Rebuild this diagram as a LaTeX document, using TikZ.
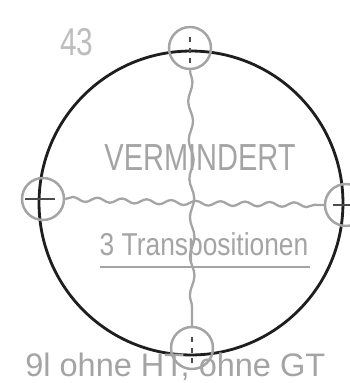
\documentclass[tikz,border=0pt]{standalone}
\usepackage{fontspec}
\setmainfont{Liberation Sans}
\usepackage{tikz}
\usetikzlibrary{positioning,decorations.pathmorphing}
\definecolor{ink}{HTML}{1E1E1E}
\definecolor{pencil}{HTML}{A4A4A4}
\definecolor{faint}{HTML}{BDBDBD}
\tikzset{
  disc/.style={circle, draw=ink, line width=1.6pt, minimum size=6.08cm, inner sep=0pt},
  ring/.style={circle, draw=pencil, line width=1.4pt, minimum size=0.84cm, inner sep=0pt},
  wave/.style={draw=pencil, line width=1.3pt, decorate,
    decoration={snake, amplitude=1.3pt, segment length=#1}},
  wave/.default=14pt,
  tick/.style={draw=ink!80, line width=0.7pt},
  hand/.style={text=pencil, inner sep=0pt},
}

\begin{document}
\begin{tikzpicture}[x=0.02cm,y=-0.02cm]
  \clip (0,0) rectangle (350,383);
  \fill[white] (0,0) rectangle (350,383);
  % big circle
  \node[disc] (rim) at (191,203) {};
  % markers on the rim
  \node[ring] (top) at (190,48) {};
  \node[ring] (lft) at (43,199) {};
  \node[ring] (rgt) at (346,205) {};
  \node[ring] (bot) at (192,348) {};
  % wavy axes
  \coordinate (mid) at (192,203);
  \draw[wave=22pt] (top.south) -- (mid) -- (bot.north);
  \draw[wave] (lft.east) -- (mid) -- (rgt.west);
  % cross marks
  \draw[tick, dashed] ([yshift=0.22cm]top.center) -- ([yshift=-0.3cm]top.center);
  \draw[tick, line width=1pt] ([xshift=-0.36cm]lft.center) -- ([xshift=0.24cm]lft.center);
  \draw[tick, line width=1pt] ([xshift=-0.26cm]rgt.center) -- ([xshift=0.1cm]rgt.center);
  \draw[tick, dashed] ([yshift=0.22cm]bot.center) -- ([yshift=-0.3cm]bot.center);
  % labels
  \node[hand, text=faint, font=\fontsize{17}{17}\selectfont, yscale=1.3] (num) at (77,42) {43};
  \node[hand, font=\fontsize{16.5}{16.5}\selectfont, yscale=1.3] (kind) at (200,158) {VERMINDERT};
  \node[hand, font=\fontsize{15}{15}\selectfont, yscale=1.2] (count) at (204,247) {3 Transpositionen};
  \draw[draw=pencil, line width=1.3pt] (100,267) -- (310,267);
  \node[hand, font=\fontsize{18.5}{18.5}\selectfont, anchor=base west] (note) at (25,376) {9l ohne HT, ohne GT};
\end{tikzpicture}
\end{document}
